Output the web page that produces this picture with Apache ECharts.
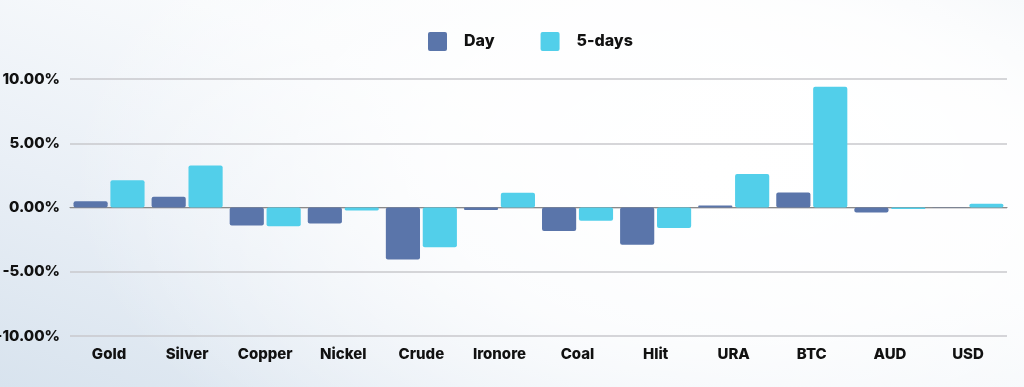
<!DOCTYPE html>
<html>
<head>
<meta charset="utf-8">
<script src="https://cdn.jsdelivr.net/npm/echarts@6/dist/echarts.min.js"></script>
<style>
html,body{margin:0;padding:0;width:1024px;height:387px;overflow:hidden;}
body{background:
 radial-gradient(ellipse 650px 380px at 720px 170px, rgba(255,255,255,1) 0%, rgba(255,255,255,0.8) 45%, rgba(255,255,255,0) 100%),
 linear-gradient(20deg, #d8e3ee 0%, #e9eff6 30%, #f8fafc 60%, #fbfcfd 80%, #eff3f7 100%);}
#c{width:1024px;height:387px;}
</style>
</head>
<body>
<div id="c"></div>
<script>
const categories = ["Gold","Silver","Copper","Nickel","Crude","Ironore","Coal","Hlit","URA","BTC","AUD","USD"];
const dayValues = [0.49, 0.83, -1.40, -1.25, -4.05, -0.20, -1.82, -2.89, 0.15, 1.17, -0.39, -0.01];
const fiveDayValues = [2.13, 3.27, -1.46, -0.23, -3.09, 1.14, -1.04, -1.59, 2.60, 9.40, -0.12, 0.30];
const seriesNames = ["Day","5-days"];
const yTicks = [-10, -5, 0, 5, 10];

const chart = echarts.init(document.getElementById('c'), null, {renderer:'canvas'});
const fontFam = "Inter, 'Noto Sans', sans-serif";
chart.setOption({
  backgroundColor: 'transparent',
  animation: false,
  legend: {
    top: 27, left: 423,
    itemWidth: 19, itemHeight: 19, itemGap: 46,
    icon: 'path://M2,0 L17,0 Q19,0 19,2 L19,17 Q19,19 17,19 L2,19 Q0,19 0,17 L0,2 Q0,0 2,0 Z',
    textStyle: {fontFamily: fontFam, fontWeight: 800, fontSize: 16, color: '#111', padding: [0,0,0,12]},
    data: seriesNames
  },
  grid: {left: 70, right: 17, top: 79, bottom: 51, containLabel: false, outerBoundsMode: 'none'},
  xAxis: {
    type: 'category', data: categories,
    axisTick: {show: false},
    axisLine: {show: true, onZero: true, lineStyle: {color: '#8a8a8a', width: 1.2}},
    axisLabel: {fontFamily: fontFam, fontWeight: 800, fontSize: 15, color: '#111', margin: 11, interval: 0}
  },
  yAxis: {
    type: 'value', min: yTicks[0], max: yTicks[yTicks.length-1], interval: 5,
    axisLine: {show: false}, axisTick: {show: false},
    splitLine: {lineStyle: {color: '#c8c9cc', width: 1.5}},
    axisLabel: {fontFamily: fontFam, fontWeight: 800, fontSize: 15, color: '#111', margin: 10,
      formatter: v => v.toFixed(2) + '%'}
  },
  series: [
    {name: seriesNames[0], type: 'bar', data: dayValues, barGap: '8%', barCategoryGap: '9%',
     itemStyle: {color: '#5a75aa', borderRadius: 2}},
    {name: seriesNames[1], type: 'bar', data: fiveDayValues,
     itemStyle: {color: '#52cfea', borderRadius: 2}}
  ]
});
</script>
</body>
</html>
